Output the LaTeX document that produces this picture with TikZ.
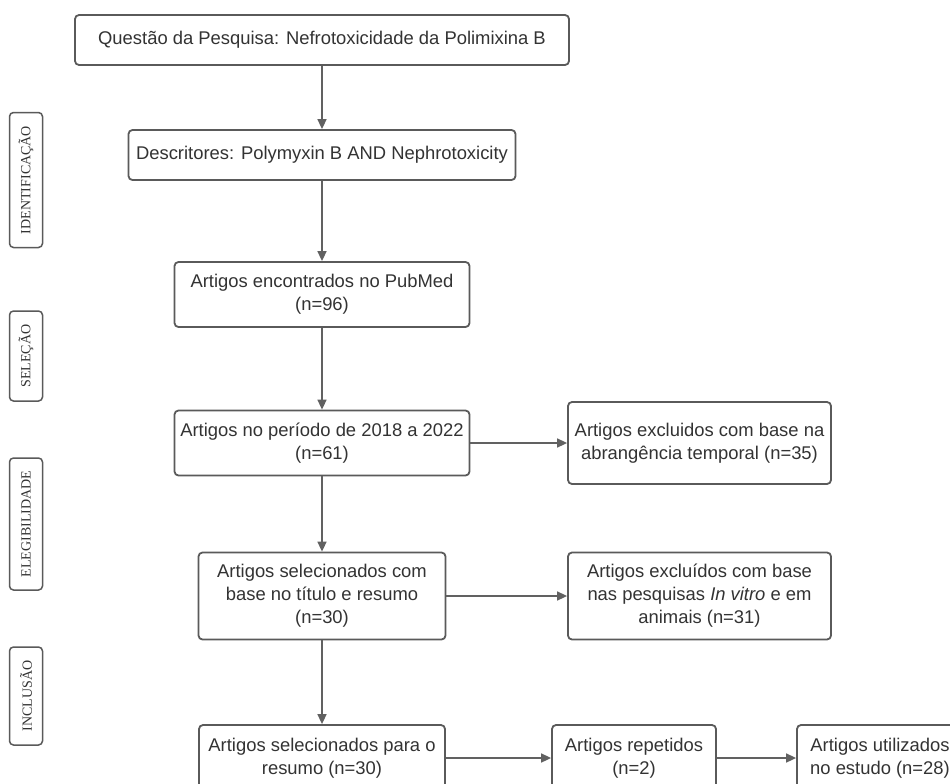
\documentclass[tikz,border=0pt]{standalone}
\usepackage{fontspec}
\setmainfont{Liberation Sans}
\newfontfamily\etapafont{Liberation Serif}
\usepackage{tikz}
\usetikzlibrary{arrows.meta}
\definecolor{fluxoBorda}{HTML}{5A5A5A}
\definecolor{fluxoSeta}{HTML}{616161}
\definecolor{fluxoTexto}{HTML}{333333}
\tikzset{
  caixa/.style={draw=fluxoBorda, line width=1.8pt, rounded corners=4pt, fill=white,
                align=center, text=fluxoTexto, inner sep=0pt,
                font=\fontsize{18.4}{23}\selectfont},
  etapa/.style={draw=fluxoBorda, line width=1.5pt, rounded corners=4pt, rotate=90,
                text=fluxoTexto, inner sep=0pt, minimum height=33pt,
                font=\etapafont\fontsize{14}{16}\selectfont},
  seta/.style={draw=fluxoSeta, line width=1.6pt, -{Triangle[width=9pt,length=10pt]}}
}

\begin{document}
\begin{tikzpicture}[x=1pt, y=-1pt]
    \fill[white] (0,0) rectangle (950,784);
    \clip (0,0) rectangle (950,784);

    % etapas
    \node[etapa, minimum width=135pt] (etIdent) at (26,180) {IDENTIFICAÇÃO};
    \node[etapa, minimum width=90pt] (etSelecao) at (26,356) {SELEÇÃO};
    \node[etapa, minimum width=132pt] (etEleg) at (26,524) {ELEGIBILIDADE};
    \node[etapa, minimum width=98pt] (etInclusao) at (26,696) {INCLUSÃO};

    % coluna principal
    \node[caixa, minimum width=494pt, minimum height=50pt] (questao) at (322,40)
        {Questão da Pesquisa: Nefrotoxicidade da Polimixina B};
    \node[caixa, minimum width=387pt, minimum height=50pt] (descritores) at (322,155)
        {Descritores: Polymyxin B AND Nephrotoxicity};
    \node[caixa, minimum width=295pt, minimum height=65pt] (encontrados) at (322,294.5)
        {Artigos encontrados no PubMed\\(n=96)};
    \node[caixa, minimum width=295pt, minimum height=65pt] (periodo) at (322,443)
        {Artigos no período de 2018 a 2022\\(n=61)};
    \node[caixa, minimum width=247pt, minimum height=87pt] (titulo) at (322,596)
        {Artigos selecionados com\\base no título e resumo\\(n=30)};
    \node[caixa, minimum width=246pt, minimum height=66pt] (resumo) at (322,758)
        {Artigos selecionados para o\\resumo (n=30)};

    % exclusoes
    \node[caixa, minimum width=263pt, minimum height=82pt] (exclTemporal) at (699.5,443)
        {Artigos excluidos com base na\\abrangência temporal (n=35)};
    \node[caixa, minimum width=263pt, minimum height=87pt] (exclVitro) at (699.5,596)
        {Artigos excluídos com base\\nas pesquisas \textit{In vitro} e em\\animais (n=31)};
    \node[caixa, minimum width=164pt, minimum height=66pt] (repetidos) at (634,758)
        {Artigos repetidos\\(n=2)};
    \node[caixa, minimum width=166pt, minimum height=66pt] (utilizados) at (880,758)
        {Artigos utilizados\\no estudo (n=28)};

    % setas
    \draw[seta] (questao) -- (descritores);
    \draw[seta] (descritores) -- (encontrados);
    \draw[seta] (encontrados) -- (periodo);
    \draw[seta] (periodo) -- (titulo);
    \draw[seta] (titulo) -- (resumo);
    \draw[seta] (periodo) -- (exclTemporal);
    \draw[seta] (titulo) -- (exclVitro);
    \draw[seta] (resumo) -- (repetidos);
    \draw[seta] (repetidos) -- (utilizados);
\end{tikzpicture}
\end{document}
